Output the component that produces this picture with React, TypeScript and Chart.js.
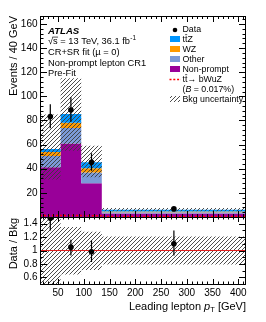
import { useEffect, useRef } from 'react';
import { Chart, registerables } from 'chart.js';
Chart.register(...registerables);

// ---------- data ----------
const BIN_EDGES = [15, 55, 95, 135, 415];
const BIN_CENTERS = [35, 75, 115, 275];
const NONPROMPT = [41.2, 61.0, 27.9, 3.0];
const OTHER = [9.4, 12.8, 8.9, 0.9];
const WZ = [3.3, 4.4, 3.6, 0.7];
const TTZ = [2.5, 7.2, 5.0, 1.5];
const SIGNAL = [1.2, 1.2, 1.0, 0.4];
const BKG_UNC_LOW = [31, 55, 33, 4.8];
const BKG_UNC_HIGH = [85, 115, 59, 7.4];
const DATA = [83.2, 88.7, 45.3, 6.7];
const DATA_ERR_LOW = [73.5, 79.0, 38.4, 5.7];
const DATA_ERR_HIGH = [93.4, 99.2, 52.8, 7.7];
const RATIO = [1.48, 1.05, 0.98, 1.1];
const RATIO_ERR_LOW = [1.3, 0.925, 0.83, 0.925];
const RATIO_ERR_HIGH = [1.66, 1.16, 1.15, 1.3];
const RATIO_UNC_LOW = [0.5, 0.64, 0.71, 0.79];
const RATIO_UNC_HIGH = [1.5, 1.35, 1.28, 1.21];
const X_TICKS = [50, 100, 150, 200, 250, 300, 350, 400];
const Y_TICKS = [20, 40, 60, 80, 100, 120, 140, 160];
const RATIO_TICKS = [0.6, 0.8, 1, 1.2, 1.4];

const X_MIN = 15, X_MAX = 415;
const Y_MAX = 166.6;
const R_MIN = 0.5, R_MAX = 1.5;

const C_TTZ = '#0096ff';
const C_WZ = '#ff9a00';
const C_OTHER = '#7b9ad8';
const C_NP = '#990099';
const C_SIG = '#ff0000';
const FONT = '"Liberation Sans", Arial, Helvetica, sans-serif';

const cum = (...arrs: number[][]) => arrs[0].map((_, i) => arrs.reduce((s, a) => s + a[i], 0));
const step = (vals: number[]) =>
  BIN_EDGES.map((x, i) => ({ x, y: vals[Math.min(i, vals.length - 1)] }));
const errSegs = (lo: number[], hi: number[]) => {
  const out: any[] = [];
  BIN_CENTERS.forEach((x, i) => {
    out.push({ x, y: lo[i] }, { x, y: hi[i] }, { x, y: null });
  });
  return out;
};

function makeHatch(): CanvasPattern | string {
  const c = document.createElement('canvas');
  c.width = 4; c.height = 4;
  const g = c.getContext('2d');
  if (!g) return '#999';
  g.strokeStyle = '#3a3a3a';
  g.lineWidth = 0.9;
  g.beginPath();
  g.moveTo(0, 4); g.lineTo(4, 0);
  g.moveTo(-1, 1); g.lineTo(1, -1);
  g.moveTo(3, 5); g.lineTo(5, 3);
  g.stroke();
  return g.createPattern(c, 'repeat') || '#999';
}

function drawTTbar(ctx: CanvasRenderingContext2D, x: number, y: number, size: number) {
  const w = ctx.measureText('t').width;
  ctx.fillText('tt', x, y);
  ctx.save();
  ctx.lineWidth = 0.7;
  ctx.beginPath();
  ctx.moveTo(x + w + 0.2, y - size * 0.55);
  ctx.lineTo(x + 2 * w - 0.2, y - size * 0.55);
  ctx.stroke();
  ctx.restore();
  return x + 2 * w;
}

export default function App() {
  const ref = useRef<HTMLCanvasElement>(null);
  useEffect(() => {
    if (!ref.current) return;
    const hatch = makeHatch();
    const cOther = cum(NONPROMPT, OTHER);
    const cWZ = cum(NONPROMPT, OTHER, WZ);
    const cTTZ = cum(NONPROMPT, OTHER, WZ, TTZ);

    const decor = {
      id: 'decor',
      afterDatasetsDraw(chart: any) {
        const ctx: CanvasRenderingContext2D = chart.ctx;
        const xs = chart.scales.x, ys = chart.scales.y, rs = chart.scales.y2;
        const L = Math.round(xs.left), R = Math.round(xs.right);
        ctx.save();
        ctx.strokeStyle = '#000';
        ctx.lineWidth = 1;
        const line = (x1: number, y1: number, x2: number, y2: number) => {
          ctx.beginPath(); ctx.moveTo(x1, y1); ctx.lineTo(x2, y2); ctx.stroke();
        };
        const panels = [
          { s: ys, maj: 20, min: 4, lo: 0, hi: Y_MAX, tl: 6 },
          { s: rs, maj: 0.2, min: 0.1, lo: R_MIN, hi: R_MAX, tl: 5 },
        ];
        panels.forEach((p) => {
          const T = Math.round(p.s.top), B = Math.round(p.s.bottom);
          ctx.strokeRect(L + 0.5, T + 0.5, R - L - 1, B - T);
          for (let v = 20; v <= 410; v += 10) {
            const px = Math.round(xs.getPixelForValue(v)) + 0.5;
            const len = v % 50 === 0 ? p.tl : p.tl / 2;
            line(px, B, px, B - len);
            line(px, T, px, T + len);
          }
          const n = Math.round((p.hi - p.lo) / p.min) + 2;
          for (let k = 0; k < n; k++) {
            const v = Math.ceil(p.lo / p.min - 1e-6) * p.min + k * p.min;
            if (v > p.hi + 1e-9) break;
            const py = Math.round(p.s.getPixelForValue(v)) + 0.5;
            if (py < T || py > B + 1) continue;
            const isMaj = Math.abs(v / p.maj - Math.round(v / p.maj)) < 1e-6;
            const len = isMaj ? 7 : 3.5;
            line(L, py, L + len, py);
            line(R, py, R - len, py);
          }
        });
        ctx.restore();
      },
      afterDraw(chart: any) {
        const ctx: CanvasRenderingContext2D = chart.ctx;
        ctx.save();
        ctx.fillStyle = '#000';
        ctx.strokeStyle = '#000';
        ctx.textBaseline = 'middle';
        ctx.textAlign = 'left';
        ctx.font = `bold italic 9.6px ${FONT}`;
        ctx.fillText('ATLAS', 48, 31);
        const f1 = 9.3;
        ctx.font = `${f1}px ${FONT}`;
        let x = 48;
        const yS = 41.7;
        ctx.fillText('\u221A', x, yS);
        x += ctx.measureText('\u221A').width;
        ctx.fillText('s', x, yS);
        const ws = ctx.measureText('s').width;
        ctx.lineWidth = 0.7;
        ctx.beginPath(); ctx.moveTo(x - 0.3, yS - 4.6); ctx.lineTo(x + ws + 0.3, yS - 4.6); ctx.stroke();
        x += ws;
        const t1 = ' = 13 TeV, 36.1 fb';
        ctx.fillText(t1, x, yS);
        x += ctx.measureText(t1).width;
        ctx.font = `6.5px ${FONT}`;
        ctx.fillText('-1', x + 0.3, yS - 3.5);
        ctx.font = `${f1}px ${FONT}`;
        ctx.fillText('CR+SR fit (\u00B5 = 0)', 48, 52.3);
        ctx.fillText('Non-prompt lepton CR1', 48, 63);
        ctx.fillText('Pre-Fit', 48, 73.6);

        const lf = 8.8;
        const tx = 182.5;
        ctx.font = `${lf}px ${FONT}`;
        ctx.beginPath(); ctx.arc(175, 30, 2.3, 0, Math.PI * 2); ctx.fill();
        ctx.fillText('Data', tx, 30);
        const boxes: [string, number][] = [[C_TTZ, 39], [C_WZ, 49], [C_OTHER, 59], [C_NP, 69]];
        boxes.forEach(([c, yy]) => { ctx.fillStyle = c; ctx.fillRect(170, yy - 3, 10, 6); });
        ctx.fillStyle = '#000';
        let e = drawTTbar(ctx, tx, 39.5, lf);
        ctx.fillText('Z', e, 39.5);
        ctx.fillText('WZ', tx, 49.5);
        ctx.fillText('Other', tx, 59.5);
        ctx.fillText('Non-prompt', tx, 69.5);
        ctx.save();
        ctx.strokeStyle = C_SIG; ctx.lineWidth = 1.7; ctx.setLineDash([2, 1.8]);
        ctx.beginPath(); ctx.moveTo(169.5, 79.5); ctx.lineTo(181, 79.5); ctx.stroke();
        ctx.restore();
        e = drawTTbar(ctx, tx, 79.5, lf);
        ctx.fillText('\u2192 bWuZ', e, 79.5);
        let bx = tx;
        ctx.fillText('(', bx, 89.5); bx += ctx.measureText('(').width;
        ctx.font = `italic ${lf}px ${FONT}`;
        ctx.fillText('B', bx, 89.5); bx += ctx.measureText('B').width;
        ctx.font = `${lf}px ${FONT}`;
        ctx.fillText(' = 0.017%)', bx, 89.5);
        ctx.fillStyle = hatch as any;
        ctx.fillRect(170, 96, 10, 6);
        ctx.fillStyle = '#000';
        ctx.fillText('Bkg uncertainty', tx, 99.5);

        ctx.font = `11px ${FONT}`;
        ctx.save();
        ctx.translate(14, 16);
        ctx.rotate(-Math.PI / 2);
        ctx.textAlign = 'right';
        ctx.fillText('Events / 40 GeV', 0, 0);
        ctx.restore();
        ctx.save();
        ctx.translate(14, 218);
        ctx.rotate(-Math.PI / 2);
        ctx.textAlign = 'right';
        ctx.fillText('Data / Bkg', 0, 0);
        ctx.restore();

        const parts: [string, string, number][] = [
          ['Leading lepton ', `11px ${FONT}`, 0],
          ['p', `italic 11px ${FONT}`, 0],
          ['T', `7.5px ${FONT}`, 2.5],
          [' [GeV]', `11px ${FONT}`, 0],
        ];
        let tot = 0;
        parts.forEach(([s, f]) => { ctx.font = f; tot += ctx.measureText(s).width; });
        let px = 246 - tot;
        parts.forEach(([s, f, dy]) => {
          ctx.font = f; ctx.fillText(s, px, 307 + dy); px += ctx.measureText(s).width;
        });
        ctx.restore();
      },
    };

    const chart = new Chart(ref.current, {
      type: 'line',
      data: {
        datasets: [
          { data: step(NONPROMPT), yAxisID: 'y', stepped: true, fill: 'origin', backgroundColor: C_NP, borderWidth: 0, pointRadius: 0, order: 20 },
          { data: step(cOther), yAxisID: 'y', stepped: true, fill: 0, backgroundColor: C_OTHER, borderWidth: 0, pointRadius: 0, order: 19 },
          { data: step(cWZ), yAxisID: 'y', stepped: true, fill: 1, backgroundColor: C_WZ, borderWidth: 0, pointRadius: 0, order: 18 },
          { data: step(cTTZ), yAxisID: 'y', stepped: true, fill: 2, backgroundColor: C_TTZ, borderWidth: 0, pointRadius: 0, order: 17 },
          { data: step(BKG_UNC_LOW), yAxisID: 'y', stepped: true, fill: false, borderWidth: 0, pointRadius: 0, order: 16 },
          { data: step(BKG_UNC_HIGH), yAxisID: 'y', stepped: true, fill: 4, backgroundColor: hatch as any, borderWidth: 0, pointRadius: 0, order: 15 },
          { data: step(SIGNAL), yAxisID: 'y', stepped: true, fill: false, borderColor: C_SIG, borderWidth: 1.6, borderDash: [2, 2], pointRadius: 0, order: 14 },
          { data: errSegs(DATA_ERR_LOW, DATA_ERR_HIGH), yAxisID: 'y', spanGaps: false, borderColor: '#000', borderWidth: 1.2, pointRadius: 0, fill: false, order: 3 },
          { data: BIN_CENTERS.map((x, i) => ({ x, y: DATA[i] })), yAxisID: 'y', showLine: false, pointRadius: 2.8, pointBackgroundColor: '#000', pointBorderWidth: 0, order: 2 },
          { data: step(RATIO_UNC_LOW), yAxisID: 'y2', stepped: true, fill: false, borderWidth: 0, pointRadius: 0, order: 13 },
          { data: step(RATIO_UNC_HIGH), yAxisID: 'y2', stepped: true, fill: 9, backgroundColor: hatch as any, borderWidth: 0, pointRadius: 0, order: 12 },
          { data: [{ x: X_MIN, y: 1 }, { x: X_MAX, y: 1 }], yAxisID: 'y2', borderColor: '#e02020', borderWidth: 1, pointRadius: 0, fill: false, order: 10 },
          { data: errSegs(RATIO_ERR_LOW, RATIO_ERR_HIGH), yAxisID: 'y2', spanGaps: false, borderColor: '#000', borderWidth: 1.2, pointRadius: 0, fill: false, order: 3 },
          { data: BIN_CENTERS.map((x, i) => ({ x, y: RATIO[i] })), yAxisID: 'y2', showLine: false, pointRadius: 2.8, pointBackgroundColor: '#000', pointBorderWidth: 0, order: 2 },
        ] as any,
      },
      options: {
        animation: false,
        responsive: false,
        events: [],
        layout: { padding: { left: 0, top: 16, right: 20, bottom: 0 } },
        plugins: { legend: { display: false }, tooltip: { enabled: false } },
        scales: {
          x: {
            type: 'linear', min: X_MIN, max: X_MAX, offset: false,
            grid: { display: false, drawTicks: false }, border: { display: false },
            afterBuildTicks: (s: any) => { s.ticks = X_TICKS.map((v) => ({ value: v })); },
            afterFit: (s: any) => { s.height = 38; },
            ticks: { color: '#000', font: { family: FONT, size: 10 }, padding: 3, maxRotation: 0, autoSkip: false, callback: (v: any) => String(v) },
          },
          y2: {
            type: 'linear', min: R_MIN, max: R_MAX, position: 'left', stack: 'panels', stackWeight: 67,
            grid: { display: false, drawTicks: false }, border: { display: false },
            afterBuildTicks: (s: any) => { s.ticks = RATIO_TICKS.map((v) => ({ value: v })); },
            afterFit: (s: any) => { s.width = 40; },
            ticks: { color: '#000', font: { family: FONT, size: 10 }, padding: 2.5, autoSkip: false, callback: (v: any) => String(v) },
          },
          y: {
            type: 'linear', min: 0, max: Y_MAX, position: 'left', stack: 'panels', stackWeight: 201,
            grid: { display: false, drawTicks: false }, border: { display: false },
            afterBuildTicks: (s: any) => { s.ticks = Y_TICKS.map((v) => ({ value: v })); },
            afterFit: (s: any) => { s.width = 40; },
            ticks: { color: '#000', font: { family: FONT, size: 10 }, padding: 2.5, autoSkip: false, callback: (v: any) => String(v) },
          },
        },
      } as any,
      plugins: [decor],
    });
    return () => chart.destroy();
  }, []);
  return (
    <div style={{ position: 'fixed', left: 0, top: 0, width: 266, height: 322, background: '#fff' }}>
      <canvas ref={ref} width={266} height={322} style={{ display: 'block', width: 266, height: 322 }} />
    </div>
  );
}
